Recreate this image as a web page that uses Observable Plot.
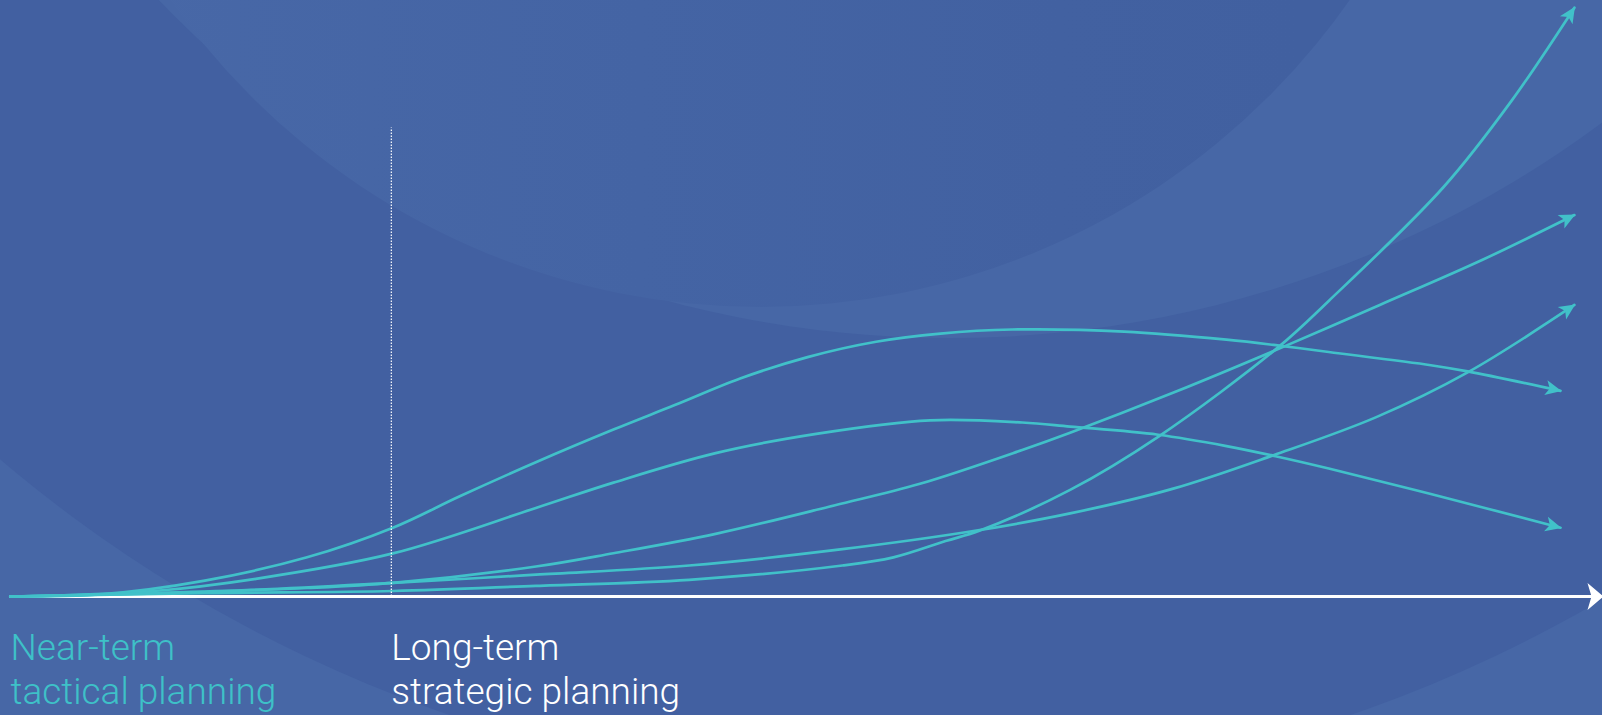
<!DOCTYPE html>
<html>
<head>
<meta charset="utf-8">
<script src="https://cdn.jsdelivr.net/npm/d3@7"></script>
<script src="https://cdn.jsdelivr.net/npm/@observablehq/plot@0.6"></script>
<style>
  html, body { margin: 0; padding: 0; background: #4260a1; }
  #chart { position: relative; width: 1602px; height: 715px; overflow: hidden; }
  #chart svg { position: absolute; left: 0; top: 0; }
</style>
</head>
<body>
<div id="chart"></div>
<script>
// ---- Data (time → impact, arbitrary units) ----
const curveAx = [0, 5.9, 12.45, 19.0, 24.5, 28.82, 33.66, 38.63, 42.56, 46.75, 51.07, 55.46, 59.58, 64.17, 71.36, 77.91, 81.38, 84.46, 91.0, 93.36, 99.31];
const curveAy = [0, 0.4, 2.7, 6.64, 11.66, 17.03, 22.75, 28.29, 32.44, 36.95, 40.58, 43.18, 44.56, 45.25, 44.91, 43.53, 42.49, 41.44, 39.2, 38.15, 34.86];

const curveBx = [0, 9.18, 15.72, 24.5, 33.66, 38.63, 45.18, 51.73, 58.92, 64.82, 67.89, 73.53, 77.91, 81.05, 84.46, 91.0, 99.31];
const curveBy = [0, 0.93, 3.0, 7.3, 15.0, 19.3, 24.3, 27.6, 29.85, 29.49, 28.8, 27.42, 25.5, 23.78, 21.7, 17.37, 11.66];

const curveCx = [0, 9.18, 19.0, 24.5, 33.66, 38.63, 45.18, 52.83, 58.27, 64.82, 67.89, 74.64, 81.25, 87.73, 94.28, 100.2];
const curveCy = [0, 0.58, 1.44, 2.31, 5.08, 7.33, 10.62, 15.47, 19.1, 24.83, 27.76, 34.7, 41.97, 49.41, 57.03, 64.65];

const curveDx = [0, 12.45, 24.5, 33.66, 43.48, 53.3, 56.57, 59.91, 62.07, 67.89, 73.53, 81.25, 84.46, 91.79, 96.18, 100.2];
const curveDy = [0, 0.58, 0.93, 1.8, 2.83, 5.25, 6.64, 9.4, 11.14, 18.07, 27.07, 42.31, 50.1, 69.32, 84.05, 99.8];

const curveEx = [0, 12.45, 24.5, 33.66, 43.48, 53.3, 61.8, 67.89, 74.44, 80.92, 87.47, 93.36, 100.2];
const curveEy = [0, 0.76, 2.31, 3.7, 5.25, 8.02, 11.14, 14.08, 18.24, 23.95, 30.36, 37.98, 49.41];

const horizonX = 24.4;        // split between near-term and long-term
const horizonTop = 79.4;      // top of the dotted divider
const axisEnd = 102;          // end of the time axis
const labelText = ["Near-term\ntactical planning", "Long-term\nstrategic planning"];
const labelX = [0, horizonX];
const labelColor = ["#3ec1c8", "#ffffff"];

const teal = "#41c1c9";

const series = [
  [curveAx, curveAy], [curveBx, curveBy], [curveCx, curveCy], [curveDx, curveDy], [curveEx, curveEy]
].map(([xs, ys]) => xs.map((x, i) => ({x, y: ys[i]})));

// ---- Background (decorative circles) ----
const W = 1602, H = 715;
const bg = d3.select("#chart").append("svg").attr("width", W).attr("height", H);
const defs = bg.append("defs");
const lg = defs.append("linearGradient").attr("id", "c1g").attr("gradientUnits", "userSpaceOnUse")
  .attr("x1", 100).attr("y1", 0).attr("x2", 1300).attr("y2", 0);
lg.append("stop").attr("offset", 0).attr("stop-color", "#4868a7");
lg.append("stop").attr("offset", 0.45).attr("stop-color", "#4464a4");
lg.append("stop").attr("offset", 0.8).attr("stop-color", "#4261a1");
lg.append("stop").attr("offset", 1).attr("stop-color", "#4160a0");
bg.append("rect").attr("width", W).attr("height", H).attr("fill", "#4767a6");
bg.append("circle").attr("cx", 900).attr("cy", -600).attr("r", 1390).attr("fill", "#4260a1");
bg.append("circle").attr("cx", 950).attr("cy", -757).attr("r", 1095).attr("fill", "#4767a6");
bg.append("circle").attr("cx", 760).attr("cy", -413).attr("r", 720).attr("fill", "url(#c1g)");

// ---- Markers ----
function stealth(len, half, notch) {
  return (color, context) => {
    const doc = (context && context.document) || document;
    const ns = "http://www.w3.org/2000/svg";
    const m = doc.createElementNS(ns, "marker");
    const s = Math.max(len, half) + 2;
    m.setAttribute("viewBox", `${-s} ${-s} ${2 * s} ${2 * s}`);
    m.setAttribute("markerWidth", 2 * s);
    m.setAttribute("markerHeight", 2 * s);
    m.setAttribute("markerUnits", "userSpaceOnUse");
    m.setAttribute("orient", "auto");
    m.setAttribute("overflow", "visible");
    const p = doc.createElementNS(ns, "path");
    p.setAttribute("d", `M1,0 L${-len},${-half} L${-len + notch},0 L${-len},${half} Z`);
    p.setAttribute("fill", color);
    p.setAttribute("stroke", "none");
    m.appendChild(p);
    return m;
  };
}

function build(useCustom) {
  const curveMarker = useCustom ? stealth(15, 7.5, 4) : "arrow";
  const axisMarker = useCustom ? stealth(15, 13.5, 4) : "arrow";
  return Plot.plot({
    width: W,
    height: H,
    marginLeft: 10,
    marginRight: 0,
    marginTop: 6,
    marginBottom: 119,
    x: {domain: [0, axisEnd], axis: null},
    y: {domain: [0, 100], axis: null},
    style: {background: "transparent", overflow: "visible"},
    marks: [
      Plot.line([{x: 0, y: 0}, {x: axisEnd, y: 0}], {x: "x", y: "y", stroke: "#ffffff", strokeWidth: 3, markerEnd: axisMarker}),
      ...series.map(d => Plot.line(d, {x: "x", y: "y", stroke: teal, strokeWidth: 2.7, curve: "catmull-rom", markerEnd: curveMarker})),
      Plot.ruleX([horizonX], {y1: 0, y2: horizonTop, stroke: "#ffffff", strokeWidth: 1.2, strokeDasharray: "1.5,1.5"}),
      ...labelText.map((t, i) => Plot.text([t], {
        x: () => labelX[i], y: () => 0, text: d => d,
        fill: labelColor[i], textAnchor: "start", lineAnchor: "top",
        dy: 33, fontSize: 37, lineHeight: 1.17, fontFamily: "Roboto, 'Open Sans', sans-serif", fontWeight: 300
      }))
    ]
  });
}

let chart;
try { chart = build(true); } catch (e) { console.error(e); chart = build(false); }
document.getElementById("chart").appendChild(chart);
</script>
</body>
</html>
